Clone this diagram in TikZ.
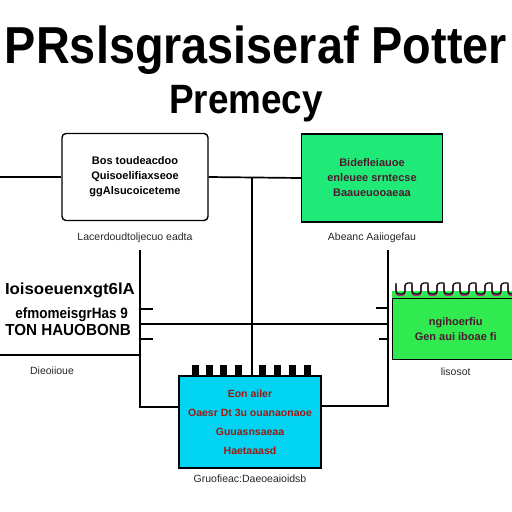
\documentclass[tikz,border=0pt]{standalone}
\usepackage{fontspec}
\setmainfont{Liberation Sans}
\usepackage{xcolor}
\usetikzlibrary{positioning}

\definecolor{chipgreen}{HTML}{1FEA78}
\definecolor{padgreen}{HTML}{30EA50}
\definecolor{chipcyan}{HTML}{00D4F2}
\definecolor{inkred}{HTML}{A01810}
\definecolor{inkplum}{HTML}{4A1A30}
\definecolor{padpink}{HTML}{C02080}

\tikzset{
  block/.style={draw, line width=1.4pt, inner sep=0pt},
  boxtext/.style={font=\bfseries\fontsize{11}{15}\selectfont, align=center},
  caption/.style={font=\fontsize{10.5}{12}\selectfont, text=black!85, inner sep=0pt},
  sidetext/.style={font=\bfseries\fontsize{16}{18}\selectfont, anchor=base east, inner sep=0pt},
  wire/.style={line width=1.7pt},
}

\begin{document}
\begin{tikzpicture}[x=1pt,y=-1pt]
\useasboundingbox (0,0) rectangle (512,512);

% heading
\node[anchor=base, inner sep=0pt, font=\bfseries\fontsize{52}{52}\selectfont] (title) at (256,63)
  {\scalebox{0.90}[1]{PRslsgrasiseraf Potter}};
\node[anchor=base, inner sep=0pt, font=\bfseries\fontsize{41}{41}\selectfont] (subtitle) at (246,113)
  {\scalebox{0.9}[1]{Premecy}};

% top row
\node[block, rounded corners=4pt, fill=white, minimum width=146pt, minimum height=87pt, boxtext]
  (memo) at (135,177) {Bos toudeacdoo\\Quisoelifiaxseoe\\ggAlsucoiceteme};
\node[block, fill=chipgreen, minimum width=141pt, minimum height=88pt, boxtext, text=inkplum]
  (proc) at (372,178) {Bidefleiauoe\\enleuee srntecse\\Baaueuooaeaa};
\node[caption, below=11pt of memo] (memolabel) {Lacerdoudtoljecuo eadta};
\node[caption, below=10pt of proc] (proclabel) {Abeanc Aaiiogefau};

% bottom chip
\foreach \x in {195,209,223,238,262,277,292,307}
  \fill (\x-3.5,365) rectangle (\x+3.5,377);
\node[block, fill=chipcyan, minimum width=142pt, minimum height=92pt, text=inkred,
      font=\bfseries\fontsize{10.5}{19}\selectfont, align=center]
  (chip) at (250,422) {Eon ailer\\Oaesr Dt 3u ouanaonaoe\\Guuasnsaeaa\\Haetaaasd};
\node[caption, below=6pt of chip] (chiplabel) {Gruofieac:Daeoeaioidsb};

% right pad
\fill[padgreen] (392,291) rectangle (512,298);
\node[block, fill=padgreen, minimum width=126pt, minimum height=61pt, anchor=north west,
      boxtext, text=inkplum] (pad) at (392,298) {ngihoerfiu\\Gen aui iboae fi};
\foreach \x in {396,412,...,508} {
  \draw[padpink, line width=1.2pt, rounded corners=3pt]
    (\x,284.5) -- (\x,295.5) -- (\x+9,295.5) -- (\x+9,284.5);
  \draw[line width=1.2pt, rounded corners=3pt]
    (\x,283) -- (\x,294) -- (\x+9,294) -- (\x+9,283) -- (\x+16,283);
}
\node[caption, below=7pt of pad] (padlabel) {lisosot};

% left block
\node[sidetext] (lone) at (135,294) {\scalebox{1.05}[1]{Ioisoeuenxgt6lA}};
\node[sidetext, font=\bfseries\fontsize{15}{18}\selectfont] (ltwo) at (128,318) {\scalebox{0.9}[1]{efmomeisgrHas 9}};
\node[sidetext] (lthree) at (131,335) {\scalebox{0.95}[1]{TON HAUOBONB}};
\node[caption] (leftlabel) at (52,371) {Dieoiioue};

% wires
\coordinate (westin) at (0,177);
\coordinate (tee) at (252,178);
\coordinate (lbus) at (140,250);
\coordinate (lfoot) at (140,407);
\coordinate (rbus) at (388,250);
\coordinate (rfoot) at (388,406);
\coordinate (lmid) at (140,324);
\coordinate (rmid) at (388,324);
\coordinate (lshelf) at (0,355);

\draw[wire] (westin) -- (memo.west);
\draw[wire] (memo.east) -- (proc.west);
\draw[wire] (tee) -- (tee |- chip.north);
\draw[wire] (lbus) -- (lfoot) -- (lfoot -| chip.west);
\draw[wire] (rbus) -- (rfoot) -- (rfoot -| chip.east);
\draw[wire] (lmid) -- (rmid);
\draw[wire] (lshelf) -- (lshelf -| lbus);
\draw[wire] (140,309) -- (153,309);
\draw[wire] (140,339) -- (153,339);
\draw[wire] (388,308) -- (376,308);
\draw[wire] (388,339) -- (379,339);
\end{tikzpicture}
\end{document}
